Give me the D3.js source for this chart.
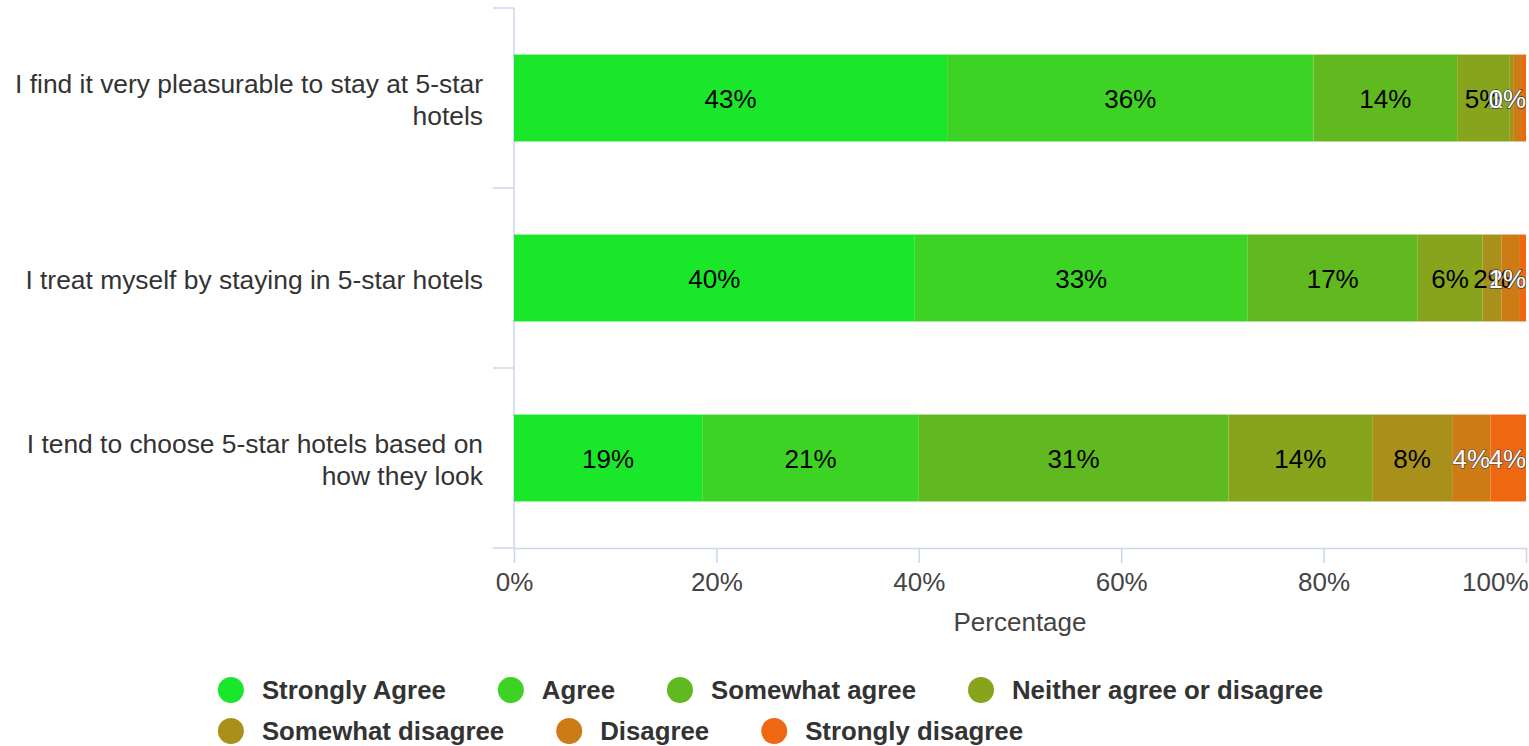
<!DOCTYPE html>
<html>
<head>
<meta charset="utf-8">
<script src="https://cdn.jsdelivr.net/npm/d3@7"></script>
<style>
  html, body { margin: 0; padding: 0; background: #fff; }
  svg { display: block; font-family: "Liberation Sans", Arial, Helvetica, sans-serif; }
</style>
</head>
<body>
<svg id="chart" width="1529" height="746"></svg>
<script>
// Survey statements (one horizontal bar each)
const categories = [
  "I find it very pleasurable to stay at 5-star hotels",
  "I treat myself by staying in 5-star hotels",
  "I tend to choose 5-star hotels based on how they look"
];

// Answer options, in stacking order
const seriesNames = [
  "Strongly Agree", "Agree", "Somewhat agree", "Neither agree or disagree",
  "Somewhat disagree", "Disagree", "Strongly disagree"
];

// Share of respondents (%) per statement
const stronglyAgree      = [42.8, 39.6, 18.6];
const agree              = [36.2, 32.9, 21.4];
const somewhatAgree      = [14.2, 16.8, 30.6];
const neitherAgree       = [5.2, 6.4, 14.2];
const somewhatDisagree   = [0.4, 1.9, 7.9];
const disagree           = [0.8, 1.8, 3.8];
const stronglyDisagree   = [0.4, 0.6, 3.5];

const tickValues = [0, 20, 40, 60, 80, 100];
const axisTitle = "Percentage";

const seriesValues = [stronglyAgree, agree, somewhatAgree, neitherAgree,
                      somewhatDisagree, disagree, stronglyDisagree];

const colors = ["#1ae72a", "#3cd324", "#60b91f", "#87a41d", "#a9901a", "#cd7b15", "#f06712"];
const labelFill = ["#000", "#000", "#000", "#000", "#000", "#fff", "#fff"];

const W = 1529, H = 746;
const plot = { left: 514, right: 1526, top: 8, bottom: 548 };
const axisColor = "#ccd6eb";

const svg = d3.select("#chart");

const x = d3.scaleLinear().domain([0, 100]).range([plot.left, plot.right]);
const y = d3.scaleBand().domain(categories).range([plot.top, plot.bottom])
  .paddingInner(0.517).paddingOuter(0.2585);

// Stack the series
const rows = categories.map((c, i) => {
  const r = { category: c };
  seriesNames.forEach((s, j) => { r[s] = seriesValues[j][i]; });
  return r;
});
const stacked = d3.stack().keys(seriesNames)(rows);

// Value axis (bottom)
const xAxis = d3.axisBottom(x).tickValues(tickValues).tickFormat(d => d + "%")
  .tickSize(15).tickSizeOuter(0).tickPadding(10);
const gx = svg.append("g").attr("transform", `translate(0,${plot.bottom})`).call(xAxis);
gx.select(".domain").attr("stroke", axisColor).attr("stroke-width", 1.5);
gx.selectAll(".tick line").attr("stroke", axisColor).attr("stroke-width", 1.5);
gx.selectAll(".tick text").attr("fill", "#444").style("font-size", "26px")
  .each(function (d) {
    // keep the outermost tick label inside the chart
    const w = this.getComputedTextLength();
    const over = x(d) + w / 2 - (W - 1);
    if (over > 0) d3.select(this).attr("x", -over);
  });

svg.append("text")
  .attr("x", (plot.left + plot.right) / 2).attr("y", 631)
  .attr("text-anchor", "middle").attr("fill", "#444")
  .style("font-size", "26px").text(axisTitle);

// Category axis (left): line plus ticks on band boundaries
const gy = svg.append("g");
gy.append("line")
  .attr("x1", plot.left).attr("x2", plot.left)
  .attr("y1", plot.top).attr("y2", plot.bottom)
  .attr("stroke", axisColor).attr("stroke-width", 1.5);
d3.range(categories.length + 1).forEach(i => {
  const yy = y.range()[0] + i * y.step();
  gy.append("line")
    .attr("x1", plot.left - 21).attr("x2", plot.left)
    .attr("y1", yy).attr("y2", yy)
    .attr("stroke", axisColor).attr("stroke-width", 1.5);
});

// Category labels, wrapped to the available width
const labelRight = 483, labelMaxWidth = 478, lineHeight = 32;
categories.forEach(c => {
  const cy = y(c) + y.bandwidth() / 2;
  const t = gy.append("text")
    .attr("text-anchor", "end").attr("fill", "#333").style("font-size", "26.4px");
  const words = c.split(" ");
  const lines = [];
  let cur = [];
  const probe = t.append("tspan");
  words.forEach(w => {
    const test = cur.concat([w]).join(" ");
    probe.text(test);
    if (probe.node().getComputedTextLength() > labelMaxWidth && cur.length) {
      lines.push(cur.join(" "));
      cur = [w];
    } else {
      cur.push(w);
    }
  });
  lines.push(cur.join(" "));
  probe.remove();
  const first = cy + 11 - (lines.length - 1) * lineHeight / 2;
  lines.forEach((ln, k) => {
    t.append("tspan").attr("x", labelRight).attr("y", first + k * lineHeight).text(ln);
  });
});

// Bars
const layers = svg.append("g").selectAll("g").data(stacked).join("g")
  .attr("fill", (d, i) => colors[i]);
layers.selectAll("rect").data(d => d).join("rect")
  .attr("x", d => x(d[0]))
  .attr("y", d => y(d.data.category))
  .attr("width", d => x(d[1]) - x(d[0]))
  .attr("height", y.bandwidth());

// Value labels, kept inside the plot area
const labels = svg.append("g").style("font-size", "26px");
stacked.forEach((layer, i) => {
  layer.forEach(d => {
    const v = d[1] - d[0];
    const t = labels.append("text")
      .attr("text-anchor", "middle")
      .attr("y", y(d.data.category) + y.bandwidth() / 2 + 10)
      .attr("fill", labelFill[i])
      .text(Math.round(v) + "%");
    if (labelFill[i] === "#fff") {
      t.attr("stroke", "#444").attr("stroke-width", 1.2).attr("paint-order", "stroke");
    }
    const w = t.node().getComputedTextLength();
    let cx = (x(d[0]) + x(d[1])) / 2;
    if (cx + w / 2 > plot.right) cx = plot.right - w / 2;
    t.attr("x", cx);
  });
});

// Legend: items flow left to right, wrapping into rows
const legend = svg.append("g").style("font-size", "25.8px").style("font-weight", "bold");
const r = 13, textOffset = 31, itemGap = 52, maxRowWidth = 1400;
const items = seriesNames.map((s, i) => {
  const g = legend.append("g");
  g.append("circle").attr("r", r).attr("fill", colors[i]);
  const t = g.append("text").attr("x", textOffset).attr("y", 9).attr("fill", "#333").text(s);
  return { g, width: r + textOffset + t.node().getComputedTextLength() };
});
const legendRows = [];
let row = [], rowW = 0;
items.forEach(it => {
  const add = (row.length ? itemGap : 0) + it.width;
  if (row.length && rowW + add > maxRowWidth) {
    legendRows.push({ row, rowW });
    row = []; rowW = 0;
  }
  rowW += (row.length ? itemGap : 0) + it.width;
  row.push(it);
});
legendRows.push({ row, rowW });
const legendW = d3.max(legendRows, d => d.rowW);
const legendLeft = (W - legendW) / 2 + 6;
legendRows.forEach((lr, ri) => {
  let xx = legendLeft;
  lr.row.forEach(it => {
    it.g.attr("transform", `translate(${xx + r},${690 + ri * 41})`);
    xx += it.width + itemGap;
  });
});
</script>
</body>
</html>
